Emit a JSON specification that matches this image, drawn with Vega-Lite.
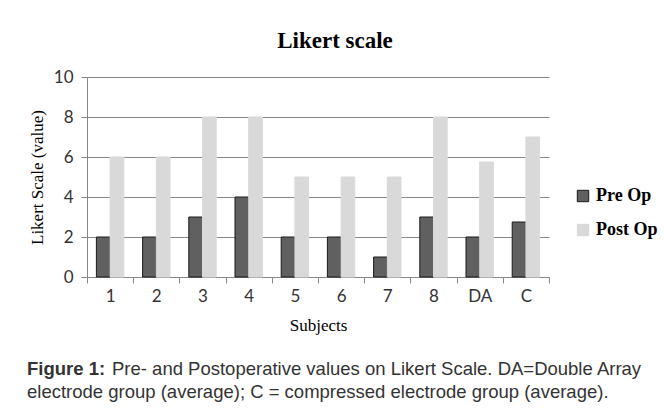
{
  "$schema": "https://vega.github.io/schema/vega-lite/v6.json",
  "background": "white",
  "padding": {"left": 27, "top": 30, "right": 5, "bottom": 5},
  "spacing": 24,
  "datasets": {
    "bars": [
      {"Subject": "1", "Phase": "Pre Op", "value": 2},
      {"Subject": "1", "Phase": "Post Op", "value": 6},
      {"Subject": "2", "Phase": "Pre Op", "value": 2},
      {"Subject": "2", "Phase": "Post Op", "value": 6},
      {"Subject": "3", "Phase": "Pre Op", "value": 3},
      {"Subject": "3", "Phase": "Post Op", "value": 8},
      {"Subject": "4", "Phase": "Pre Op", "value": 4},
      {"Subject": "4", "Phase": "Post Op", "value": 8},
      {"Subject": "5", "Phase": "Pre Op", "value": 2},
      {"Subject": "5", "Phase": "Post Op", "value": 5},
      {"Subject": "6", "Phase": "Pre Op", "value": 2},
      {"Subject": "6", "Phase": "Post Op", "value": 5},
      {"Subject": "7", "Phase": "Pre Op", "value": 1},
      {"Subject": "7", "Phase": "Post Op", "value": 5},
      {"Subject": "8", "Phase": "Pre Op", "value": 3},
      {"Subject": "8", "Phase": "Post Op", "value": 8},
      {"Subject": "DA", "Phase": "Pre Op", "value": 2},
      {"Subject": "DA", "Phase": "Post Op", "value": 5.75},
      {"Subject": "C", "Phase": "Pre Op", "value": 2.75},
      {"Subject": "C", "Phase": "Post Op", "value": 7}
    ],
    "caption": [
      {"line": 1, "piece": "bold", "text": "Figure 1:"},
      {"line": 1, "piece": "rest1", "text": "Pre- and Postoperative values on Likert Scale. DA=Double Array"},
      {"line": 2, "piece": "rest2", "text": "electrode group (average); C = compressed electrode group (average)."}
    ]
  },
  "vconcat": [
    {
      "title": {
        "text": "Likert scale",
        "font": "Liberation Serif",
        "fontSize": 23,
        "fontWeight": "bold",
        "color": "#000000",
        "anchor": "middle",
        "frame": "group",
        "dx": 17,
        "offset": 15
      },
      "width": 462,
      "height": 200,
      "data": {"name": "bars"},
      "mark": {"type": "bar", "strokeWidth": 1},
      "encoding": {
        "x": {
          "field": "Subject",
          "type": "nominal",
          "sort": ["1", "2", "3", "4", "5", "6", "7", "8", "DA", "C"],
          "scale": {"paddingInner": 0, "paddingOuter": 0},
          "axis": {
            "title": "Subjects",
            "titleFont": "Liberation Serif",
            "titleFontSize": 17,
            "titleFontWeight": "normal",
            "titleColor": "#000000",
            "titlePadding": 13,
            "labelFont": "Lato",
            "labelFontSize": 17,
            "labelColor": "#333333",
            "labelAngle": 0,
            "labelPadding": 5,
            "tickBand": "extent",
            "tickSize": 6,
            "tickColor": "#888888",
            "domainColor": "#888888",
            "grid": false
          }
        },
        "xOffset": {
          "field": "Phase",
          "type": "nominal",
          "sort": ["Pre Op", "Post Op"],
          "scale": {"paddingInner": 0, "paddingOuter": 0.686}
        },
        "y": {
          "field": "value",
          "type": "quantitative",
          "scale": {"domain": [0, 10]},
          "axis": {
            "title": "Likert Scale (value)",
            "titleFont": "Liberation Serif",
            "titleFontSize": 17,
            "titleFontWeight": "normal",
            "titleColor": "#000000",
            "titlePadding": 7,
            "values": [0, 2, 4, 6, 8, 10],
            "labelFont": "Lato",
            "labelFontSize": 17,
            "labelColor": "#333333",
            "labelPadding": 8,
            "tickSize": 6,
            "tickColor": "#888888",
            "domainColor": "#888888",
            "grid": true,
            "gridColor": "#888888",
            "gridWidth": 1
          }
        },
        "fill": {
          "field": "Phase",
          "type": "nominal",
          "sort": ["Pre Op", "Post Op"],
          "scale": {"domain": ["Pre Op", "Post Op"], "range": ["#606060", "#d9d9d9"]},
          "legend": {
            "title": null,
            "orient": "none",
            "legendX": 487,
            "legendY": 110,
            "symbolType": "square",
            "symbolSize": 130,
            "symbolStrokeWidth": 1,
            "labelFont": "Liberation Serif",
            "labelFontSize": 18,
            "labelFontWeight": "bold",
            "labelColor": "#000000",
            "labelOffset": 4,
            "rowPadding": 16
          }
        },
        "stroke": {
          "field": "Phase",
          "type": "nominal",
          "sort": ["Pre Op", "Post Op"],
          "scale": {"domain": ["Pre Op", "Post Op"], "range": ["#1a1a1a", "#d9d9d9"]},
          "legend": null
        }
      }
    },
    {
      "width": 462,
      "height": 46,
      "data": {"name": "caption"},
      "encoding": {
        "x": {"value": 0},
        "y": {"field": "line", "type": "ordinal", "axis": null},
        "text": {"field": "text", "type": "nominal"}
      },
      "layer": [
        {
          "transform": [{"filter": "datum.piece === 'bold'"}],
          "mark": {"type": "text", "align": "left", "baseline": "middle", "dx": -60, "font": "Liberation Sans", "fontSize": 18.5, "fontWeight": "bold", "color": "#333333"}
        },
        {
          "transform": [{"filter": "datum.piece === 'rest1'"}],
          "mark": {"type": "text", "align": "left", "baseline": "middle", "dx": 25, "font": "Liberation Sans", "fontSize": 18.5, "color": "#333333"}
        },
        {
          "transform": [{"filter": "datum.piece === 'rest2'"}],
          "mark": {"type": "text", "align": "left", "baseline": "middle", "dx": -60, "font": "Liberation Sans", "fontSize": 18.5, "color": "#333333"}
        }
      ]
    }
  ],
  "config": {"view": {"stroke": null}}
}
